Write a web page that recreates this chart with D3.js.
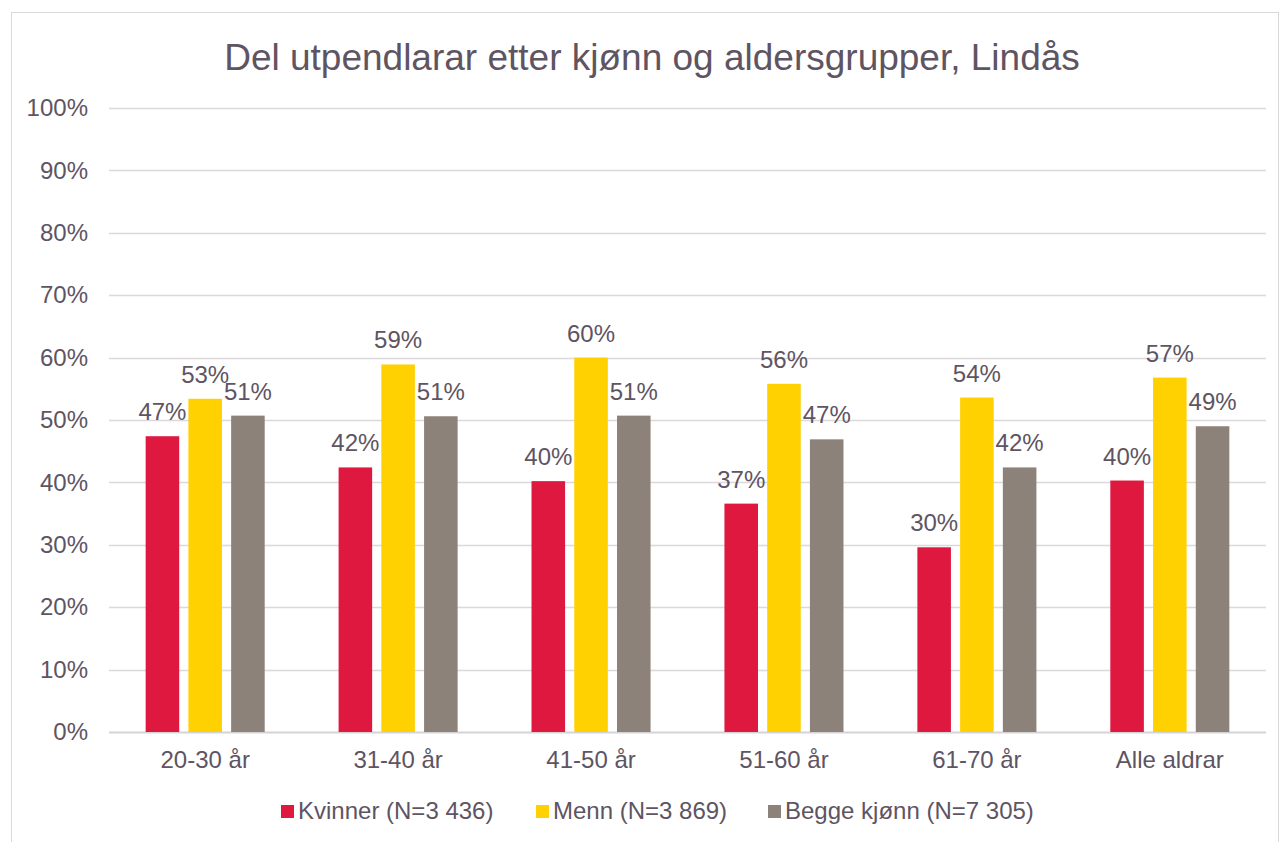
<!DOCTYPE html>
<html>
<head>
<meta charset="utf-8">
<script src="https://cdn.jsdelivr.net/npm/d3@7"></script>
<style>
  body { margin: 0; background: #fff; }
  svg text { font-family: "Liberation Sans", Arial, sans-serif; }
</style>
</head>
<body>
<div id="chart"></div>
<script>
'use strict';

const categories = ['20-30 år', '31-40 år', '41-50 år', '51-60 år', '61-70 år', 'Alle aldrar'];
const seriesNames = ['Kvinner (N=3 436)', 'Menn (N=3 869)', 'Begge kjønn (N=7 305)'];
const kvinner = [47.4, 42.4, 40.2, 36.6, 29.6, 40.3];
const menn = [53.4, 58.9, 60.0, 55.8, 53.6, 56.8];
const begge = [50.7, 50.6, 50.7, 46.9, 42.4, 49.0];
const yTicks = [0, 10, 20, 30, 40, 50, 60, 70, 80, 90, 100];
const colors = ['#DF1840', '#FFD100', '#8C8279'];

const width = 1282;
const height = 842;
const margin = { top: 108, right: 16, bottom: 110, left: 109 };
const textColor = '#5E5462';

const series = [kvinner, menn, begge];

let svg = d3.select('#chart').append('svg')
    .attr('width', width)
    .attr('height', height);

// chart border
svg.append('rect')
    .attr('x', 11.5).attr('y', 12.5)
    .attr('width', 1267).attr('height', 850)
    .attr('fill', 'none')
    .attr('stroke', '#d9d9d9');

svg.append('text')
    .text('Del utpendlarar etter kjønn og aldersgrupper, Lindås')
    .attr('x', 652)
    .attr('y', 70)
    .attr('text-anchor', 'middle')
    .style('font-size', '37px')
    .style('fill', textColor);

let x0 = d3.scaleBand()
    .domain(categories)
    .range([margin.left, width - margin.right])
    .paddingInner(0.383)
    .paddingOuter(0.19);

let x1 = d3.scaleBand()
    .domain(d3.range(series.length))
    .range([0, x0.bandwidth()])
    .paddingInner(0.215)
    .paddingOuter(0);

let y = d3.scaleLinear()
    .domain([0, 100])
    .range([height - margin.bottom, margin.top]);

// gridlines
let g = svg.append('g');
g.selectAll('line.grid')
    .data(yTicks)
    .enter().append('line')
    .attr('class', 'grid')
    .attr('x1', margin.left)
    .attr('x2', width - margin.right)
    .attr('y1', d => Math.round(y(d)) + 0.5)
    .attr('y2', d => Math.round(y(d)) + 0.5)
    .attr('stroke', d => d === 0 ? '#d6d3d6' : '#dcd8dc')
    .attr('stroke-width', d => d === 0 ? 2 : 1.3);

// y axis labels
let yAxis = d3.axisLeft(y)
    .tickValues(yTicks)
    .tickFormat(d => d + '%')
    .tickSize(0)
    .tickPadding(21);
let ya = svg.append('g')
    .attr('transform', 'translate(' + margin.left + ',0)')
    .call(yAxis);
ya.select('.domain').remove();
ya.selectAll('text')
    .style('font-size', '24px')
    .style('fill', textColor);

// bars
let groups = svg.selectAll('g.cat')
    .data(categories)
    .enter().append('g')
    .attr('class', 'cat')
    .attr('transform', d => 'translate(' + x0(d) + ',0)');

groups.selectAll('rect')
    .data((c, i) => series.map((s, k) => ({ k: k, v: s[i] })))
    .enter().append('rect')
    .attr('x', d => x1(d.k))
    .attr('width', x1.bandwidth())
    .attr('y', d => y(d.v))
    .attr('height', d => y(0) - y(d.v))
    .attr('fill', d => colors[d.k]);

groups.selectAll('text.val')
    .data((c, i) => series.map((s, k) => ({ k: k, v: s[i] })))
    .enter().append('text')
    .attr('class', 'val')
    .attr('x', d => x1(d.k) + x1.bandwidth() / 2)
    .attr('y', d => y(d.v) - 16)
    .attr('text-anchor', 'middle')
    .style('font-size', '24px')
    .style('fill', textColor)
    .text(d => Math.round(d.v) + '%');

// x axis labels
let xAxis = d3.axisBottom(x0).tickSize(0).tickPadding(19);
let xa = svg.append('g')
    .attr('transform', 'translate(0,' + y(0) + ')')
    .call(xAxis);
xa.select('.domain').remove();
xa.selectAll('text')
    .style('font-size', '24px')
    .style('fill', textColor);

// legend
const legendX = [281, 536, 768];
let legend = svg.selectAll('g.legend')
    .data(seriesNames)
    .enter().append('g')
    .attr('class', 'legend')
    .attr('transform', (d, i) => 'translate(' + legendX[i] + ',805)');
legend.append('rect')
    .attr('width', 13).attr('height', 13)
    .attr('fill', (d, i) => colors[i]);
legend.append('text')
    .attr('x', 17)
    .attr('y', 14)
    .style('font-size', '24px')
    .style('fill', textColor)
    .text(d => d);
</script>
</body>
</html>
